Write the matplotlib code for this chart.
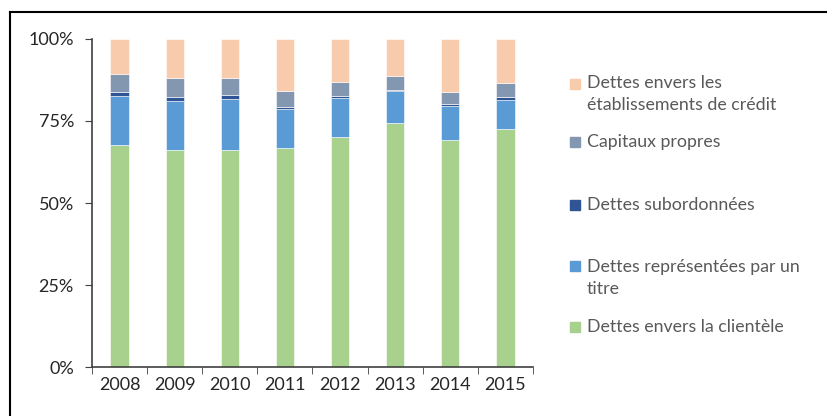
import matplotlib
matplotlib.use("Agg")
import matplotlib.pyplot as plt
from matplotlib.lines import Line2D
from matplotlib.patches import Rectangle
import numpy as np

plt.rcParams['font.family'] = ['Lato', 'DejaVu Sans']

years = ['2008', '2009', '2010', '2011', '2012', '2013', '2014', '2015']

# shares in %, bottom to top
clientele = [67.6, 66.1, 66.1, 66.8, 70.1, 74.2, 69.1, 72.4]
titres = [15.0, 15.0, 15.6, 11.7, 11.9, 9.8, 10.4, 9.0]
subordonnees = [1.1, 1.1, 1.1, 0.7, 0.6, 0.4, 0.7, 0.8]
capitaux = [5.7, 5.8, 5.2, 4.9, 4.1, 4.2, 3.6, 4.2]
etablissements = [10.6, 12.0, 12.0, 15.9, 13.3, 11.4, 16.2, 13.6]

series = [
    ("Dettes envers la clientèle", clientele, "#A9D18E"),
    ("Dettes représentées par un\ntitre", titres, "#5B9BD5"),
    ("Dettes subordonnées", subordonnees, "#2F5597"),
    ("Capitaux propres", capitaux, "#8497B0"),
    ("Dettes envers les\nétablissements de crédit", etablissements, "#F8CBAD"),
]

W, H = 828, 416
fig = plt.figure(figsize=(W / 100, H / 100), dpi=100)
ax = fig.add_axes([92 / W, 1 - 367.3 / H, (533 - 92) / W, (367.3 - 38.7) / H])

x = np.arange(len(years))
bottom = np.zeros(len(years))
for name, vals, col in series:
    ax.bar(x, vals, bottom=bottom, width=0.33, color=col, edgecolor='white', linewidth=0.4)
    bottom += np.array(vals)

ax.set_xlim(-0.5, len(years) - 0.5)
ax.set_ylim(0, 100)
ax.set_yticks([0, 25, 50, 75, 100])
ax.set_yticklabels(['0%', '25%', '50%', '75%', '100%'])
ax.set_xticks(x)
ax.set_xticklabels(years)
ax.set_xticks(np.arange(-0.5, len(years)), minor=True)
ax.tick_params(axis='x', which='major', length=0, pad=7)
ax.tick_params(axis='x', which='minor', length=5, direction='out', color='#404040')
ax.tick_params(axis='y', length=5, direction='out', color='#404040', pad=8)
ax.tick_params(labelsize=13, labelcolor='#262626')
for s in ['top', 'right']:
    ax.spines[s].set_visible(False)
for s in ['left', 'bottom']:
    ax.spines[s].set_color('#404040')
    ax.spines[s].set_linewidth(1.2)

# legend drawn by hand (Excel spacing)
legend_rows = [
    (4, 94, 84),
    (3, 141.5, 141.5),
    (2, 204.5, 204.5),
    (1, 278, 266),
    (0, 327, 327),
]
for idx, ty, sy in legend_rows:
    name, vals, col = series[idx]
    fig.add_artist(Rectangle((570 / W, 1 - (sy + 5) / H), 10 / W, 10 / H,
                             transform=fig.transFigure, color=col))
    fig.text(587 / W, 1 - ty / H, name, fontsize=12.8, color='#595959',
             va='center', ha='left', linespacing=1.4)

# chart frame
fig.add_artist(Line2D([10 / W, 1], [1 - 12 / H, 1 - 12 / H], transform=fig.transFigure,
                      color='black', linewidth=1.5))
fig.add_artist(Line2D([10 / W, 10 / W], [0, 1 - 12 / H], transform=fig.transFigure,
                      color='black', linewidth=1.5))

fig.savefig('out.png', dpi=100)
